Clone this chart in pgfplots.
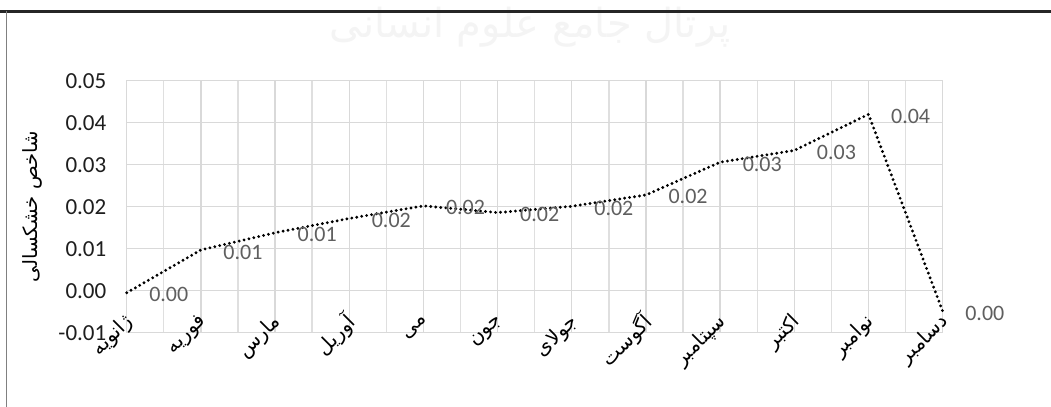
\documentclass[border=0pt]{standalone}
\usepackage{pgfplots}
\pgfplotsset{compat=1.18}
\usepackage{pgfplotstable}
\usepackage{fontspec}
\setmainfont{Carlito}
\newfontfamily\fafont[Script=Arabic]{DejaVu Sans}
\TeXXeTstate=1

\definecolor{gridgray}{RGB}{217,217,217}
\definecolor{labelgray}{RGB}{95,95,95}
\definecolor{tickblack}{RGB}{30,30,30}

% monthly drought index
\pgfplotstableread{
x y lab
0 -0.0005 0.00
1 0.0097 0.01
2 0.0138 0.01
3 0.0172 0.02
4 0.0202 0.02
5 0.0186 0.02
6 0.0201 0.02
7 0.0228 0.02
8 0.0306 0.03
9 0.0334 0.03
10 0.0420 0.04
11 -0.0049 0.00
}\drought

\begin{document}
\begin{tikzpicture}[x=0.5pt,y=0.5pt]
\path[use as bounding box] (0,0) rectangle (1051,407);
\fill[white] (0,0) rectangle (1051,407);
% faint site watermark at the top
\node[text=gray!9, font=\fafont\fontsize{20}{22}\selectfont] at (530,380) {\beginR پرتال جامع علوم انسانی\endR};
% page frame
\draw[black!85, line width=1.5pt] (0,395.5) -- (1051,395.5);
\draw[gray, line width=0.6pt] (6.5,0) -- (6.5,395.5);

\begin{axis}[
  at={(63.35pt,37.15pt)}, anchor=south west,
  scale only axis, width=408pt, height=126pt,
  xmin=0, xmax=11, ymin=-0.01, ymax=0.05,
  clip=false,
  xtick={0,...,11},
  xticklabels={
    {\beginR ژانویه\endR},{\beginR فوریه\endR},{\beginR مارس\endR},
    {\beginR آوریل\endR},{\beginR می\endR},{\beginR جون\endR},
    {\beginR جولای\endR},{\beginR آگوست\endR},{\beginR سپتامبر\endR},
    {\beginR اکتبر\endR},{\beginR نوامبر\endR},{\beginR دسامبر\endR}},
  minor x tick num=1,
  ytick={-0.01,0,0.01,0.02,0.03,0.04,0.05},
  scaled y ticks=false,
  /pgf/number format/fixed,
  /pgf/number format/fixed zerofill,
  /pgf/number format/precision=2,
  /pgf/number format/assume math mode=true,
  yticklabel style={font=\fontsize{11.5}{13}\selectfont, text=tickblack, inner sep=0pt, xshift=-10pt},
  xticklabel style={font=\fafont\fontsize{10}{11}\selectfont, text=black, inner sep=0pt, anchor=east, xshift=1.5pt, yshift=7pt, rotate=45},
  grid=both,
  major grid style={gridgray, line width=0.7pt},
  minor grid style={gridgray!85, line width=0.7pt},
  axis line style={gridgray, line width=0.7pt},
  major tick length=0pt, minor tick length=0pt,
  ylabel={\beginR شاخص خشکسالی\endR},
  ylabel style={font=\fafont\fontsize{9.8}{12}\selectfont, at={(axis description cs:-0.116,0.5)}, anchor=center},
]
\addplot[black, line width=1.6pt, line cap=round, dash pattern=on 0pt off 2.5pt,
  nodes near coords, point meta=explicit symbolic,
  every node near coord/.append style={anchor=west, xshift=10.5pt, yshift=-1pt, inner sep=0pt,
     font=\fontsize{11}{12}\selectfont, text=labelgray}]
  table[x=x, y=y, meta=lab] {\drought};
\end{axis}
\end{tikzpicture}
\end{document}
